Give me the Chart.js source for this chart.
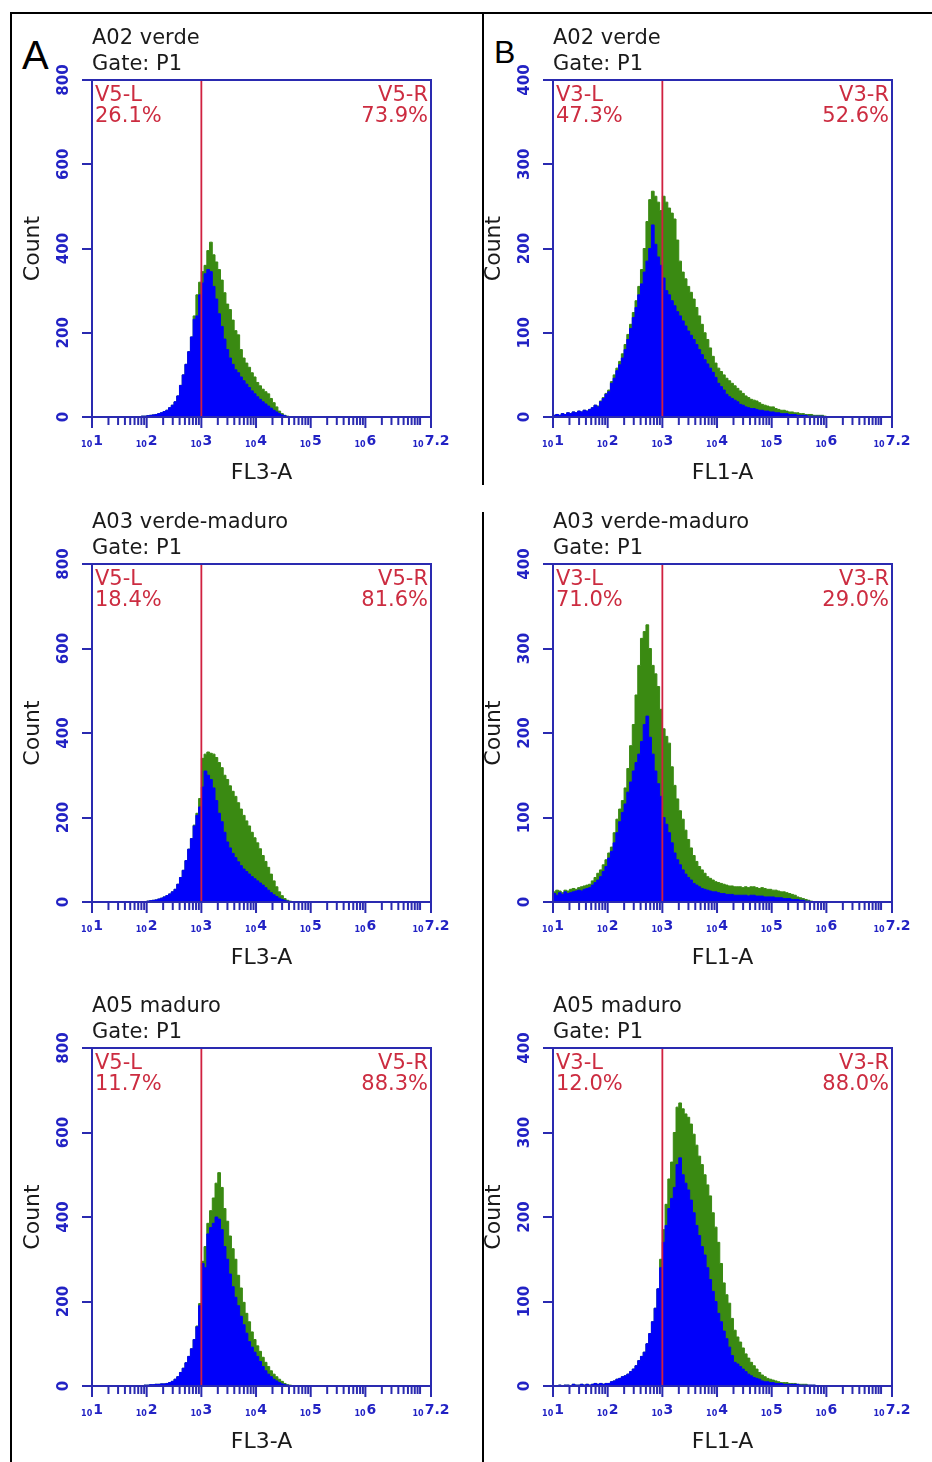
<!DOCTYPE html>
<html><head><meta charset="utf-8">
<script src="https://cdn.jsdelivr.net/npm/chart.js@4.4.1/dist/chart.umd.min.js"></script>
<style>
html,body{margin:0;padding:0;background:#fff;}
body{width:932px;height:1462px;position:relative;overflow:hidden;font-family:"DejaVu Sans",sans-serif;}
.frame{position:absolute;background:#000;}
canvas{position:absolute;}
.ttl{position:absolute;font-size:21px;line-height:26px;color:#1a1a1a;white-space:nowrap;}
.pct{position:absolute;font-size:21px;line-height:20.5px;color:#cc2c40;white-space:nowrap;}
.pct.r{text-align:right;}
.letter{position:absolute;font-family:"Liberation Sans",Arial,sans-serif;color:#000;}
</style></head>
<body>
<div class="frame" style="left:10px;top:12px;width:2px;height:1450px"></div>
<div class="frame" style="left:10px;top:12px;width:922px;height:2px"></div>
<div class="frame" style="left:482px;top:12px;width:2px;height:473px"></div>
<div class="frame" style="left:482px;top:512px;width:2px;height:950px"></div>
<div class="letter" style="left:22px;top:35px;font-size:40px;line-height:40px">A</div>
<div class="letter" style="left:494px;top:36px;font-size:32px;line-height:32px">B</div>
<script>
// ---------- data (counts per 0.05-decade bin, bins start at 10^1.00, 10^1.05, ... 10^5.95) ----------
const binStartExp = 1.0;
const binStepExp = 0.05;

const sampleNames = ['A02 verde', 'A03 verde-maduro', 'A05 maduro'];
const gateLabel = 'Gate: P1';
const channelA = 'FL3-A';
const channelB = 'FL1-A';
const regionA = ['V5-L', 'V5-R'];
const regionB = ['V3-L', 'V3-R'];
const pctLeftA = ['26.1%', '18.4%', '11.7%'];
const pctRightA = ['73.9%', '81.6%', '88.3%'];
const pctLeftB = ['47.3%', '71.0%', '12.0%'];
const pctRightB = ['52.6%', '29.0%', '88.0%'];
const yMaxA = 800, yStepA = 200;
const yMaxB = 400, yStepB = 100;
const gateValue = 1000;
const xMinExp = 1, xMaxExp = 7.2;
const xLabelExps = [1, 2, 3, 4, 5, 6, 7.2];
const xLabelSups = ['1', '2', '3', '4', '5', '6', '7.2'];
const xLabelBase = '10';

// Panel A (FL3-A)
const fl3_A02_blue = [
 0,0,0,0,0,0,0,0,0,0,0,0,0,0,0,0,1,1,2,2,
 3,4,5,6,8,10,13,16,22,28,36,50,75,100,125,155,190,232,240,290,
 318,340,350,345,310,280,245,215,185,160,140,125,112,105,95,86,78,70,62,55,
 48,42,36,31,26,21,16,12,8,5,3,1,0,0,0,0,0,0,0,0,
 0,0,0,0,0,0,0,0,0,0,0,0,0,0,0,0,0,0,0,0];
const fl3_A02_green = [
 0,0,0,0,0,0,0,0,0,0,0,0,0,0,0,0,1,1,2,2,
 3,4,5,6,8,10,13,16,22,28,36,50,75,100,125,155,190,240,290,320,
 345,360,395,415,385,368,350,325,295,268,255,230,205,195,160,140,128,118,105,95,
 82,74,66,60,55,44,34,24,14,8,4,2,1,0,0,0,0,0,0,0,
 0,0,0,0,0,0,0,0,0,0,0,0,0,0,0,0,0,0,0,0];
const fl3_A03_blue = [
 0,0,0,0,0,0,0,0,0,0,0,0,0,0,0,0,0,0,0,1,
 2,3,4,5,7,9,12,15,19,24,30,42,58,75,98,125,150,180,205,225,
 272,310,300,290,270,240,210,190,165,142,128,115,105,95,86,78,72,66,60,55,
 50,45,40,34,28,22,17,13,9,6,4,2,1,0,0,0,0,0,0,0,
 0,0,0,0,0,0,0,0,0,0,0,0,0,0,0,0,0,0,0,0];
const fl3_A03_green = [
 0,0,0,0,0,0,0,0,0,0,0,0,0,0,0,0,0,0,0,1,
 2,3,4,5,7,9,12,15,19,24,30,42,58,75,98,125,150,182,210,245,
 340,350,355,352,350,342,330,318,300,290,275,262,250,235,220,205,192,180,165,152,
 140,126,110,96,82,66,50,36,24,15,8,4,2,1,0,0,0,0,0,0,
 0,0,0,0,0,0,0,0,0,0,0,0,0,0,0,0,0,0,0,0];
const fl3_A05_blue = [
 0,0,0,0,0,0,0,0,0,0,0,0,0,0,0,0,0,1,1,2,
 2,3,3,4,4,5,5,6,8,11,16,22,32,42,55,70,88,110,140,190,
 290,280,360,375,385,400,395,370,330,300,265,235,210,190,165,145,125,105,92,80,
 70,58,46,36,28,22,16,12,8,5,3,2,1,0,0,0,0,0,0,0,
 0,0,0,0,0,0,0,0,0,0,0,0,0,0,0,0,0,0,0,0];
const fl3_A05_green = [
 0,0,0,0,0,0,0,0,0,0,0,0,0,0,0,0,0,1,1,2,
 2,3,3,4,4,5,5,6,8,11,16,22,32,42,55,70,88,110,142,195,
 295,330,385,415,445,480,505,470,420,390,355,325,300,262,232,198,172,152,128,110,
 95,82,68,56,46,36,28,22,16,11,6,3,2,1,0,0,0,0,0,0,
 0,0,0,0,0,0,0,0,0,0,0,0,0,0,0,0,0,0,0,0];

// Panel B (FL1-A)
const fl1_A02_blue = [
 2,3,2,4,3,5,4,6,5,7,6,8,7,9,11,14,12,18,22,27,
 30,40,46,55,62,70,80,92,105,118,130,145,158,172,185,200,228,205,190,180,
 165,150,145,138,132,125,120,114,108,102,97,92,86,80,74,68,63,58,53,47,
 40,36,32,27,24,22,20,18,15,14,12,11,10,10,9,8,8,7,7,6,
 6,5,5,4,4,4,3,3,3,2,2,2,2,1,1,1,1,1,1,0];
const fl1_A02_green = [
 2,3,2,4,3,5,4,6,5,7,6,8,7,9,11,14,13,19,23,28,
 32,42,50,58,66,75,86,98,110,124,138,155,175,200,232,258,268,262,255,245,
 262,255,248,242,235,210,185,172,164,155,148,140,130,120,110,100,92,82,72,64,
 58,54,50,46,43,40,37,34,31,28,25,23,21,20,19,17,15,14,13,12,
 12,10,9,8,8,7,6,6,5,5,4,4,3,3,3,2,2,2,2,1];
const fl1_A03_blue = [
 10,8,11,9,12,10,11,12,13,14,13,15,16,17,20,23,26,30,36,42,
 52,60,70,82,95,106,116,130,142,155,165,175,190,210,220,195,175,155,140,125,
 100,92,82,70,58,50,44,38,33,29,26,22,20,18,16,15,14,13,12,12,
 11,10,10,9,9,9,8,8,8,8,8,7,8,8,7,7,7,6,6,6,
 6,5,5,5,4,4,4,3,3,3,2,2,1,1,0,0,0,0,0,0];
const fl1_A03_green = [
 12,14,13,11,14,13,15,16,15,17,18,19,20,21,25,29,34,38,44,50,
 58,65,82,98,110,120,135,158,185,210,245,280,312,320,328,300,280,270,255,228,
 205,196,188,160,138,122,108,98,85,74,64,55,48,42,38,34,30,28,26,24,
 23,22,21,20,19,19,18,18,18,17,18,17,18,18,17,16,17,16,15,15,
 14,14,13,12,12,11,10,9,8,6,5,4,3,2,1,0,0,0,0,0];
const fl1_A05_blue = [
 0,0,1,0,1,1,0,2,1,1,2,1,2,1,2,3,2,3,2,3,
 3,5,6,8,9,11,12,14,17,20,24,30,35,40,50,62,76,92,115,140,
 170,190,210,222,235,262,270,250,240,232,220,205,190,178,165,155,140,126,112,100,
 86,76,65,56,46,36,28,26,23,20,17,14,12,10,9,8,6,5,5,4,
 4,3,3,3,2,2,2,2,2,2,1,1,1,1,1,1,0,0,0,0];
const fl1_A05_green = [
 0,0,1,0,1,1,0,2,1,1,2,1,2,1,2,3,2,3,2,3,
 3,5,6,8,9,11,12,14,17,20,24,30,35,40,50,62,76,92,115,150,
 185,215,245,265,300,330,335,328,322,318,310,298,285,272,262,250,238,225,205,188,
 170,145,122,108,98,80,66,58,52,45,38,33,28,24,20,16,13,11,9,8,
 7,6,5,4,4,4,3,3,3,2,2,2,2,1,1,1,0,0,0,0];

// ---------- styling / placement ----------
const BLUE = '#0000fa';
const GREEN = '#3a8a12';
const AXIS = '#2a2ab0';
const TICK_TXT = '#2222c4';
const GATE_RED = '#d02040';
const TITLE_CLR = '#1a1a1a';
const FONT = '"DejaVu Sans", sans-serif';
const COL_LEFT = [92, 553];
const ROW_TOP = [80, 564, 1048];
const ROW_BOTTOM = [417, 902, 1386];
const PLOT_W = 339;

const panels = [];
for (let r = 0; r < 3; r++) {
  panels.push({col:0,row:r,name:sampleNames[r],axis:channelA,reg:regionA,pl:pctLeftA[r],pr:pctRightA[r],yMax:yMaxA,yStep:yStepA,
    blue:[fl3_A02_blue,fl3_A03_blue,fl3_A05_blue][r], green:[fl3_A02_green,fl3_A03_green,fl3_A05_green][r]});
  panels.push({col:1,row:r,name:sampleNames[r],axis:channelB,reg:regionB,pl:pctLeftB[r],pr:pctRightB[r],yMax:yMaxB,yStep:yStepB,
    blue:[fl1_A02_blue,fl1_A03_blue,fl1_A05_blue][r], green:[fl1_A02_green,fl1_A03_green,fl1_A05_green][r]});
}

function toPoints(counts) {
  const pts = counts.map((c, i) => ({x: Math.pow(10, binStartExp + i * binStepExp), y: c}));
  pts.push({x: Math.pow(10, binStartExp + counts.length * binStepExp), y: 0});
  return pts;
}

function buildXTicks() {
  const t = [];
  for (let d = xMinExp; d < 7; d++) {
    for (let m = 1; m <= 9; m++) t.push({value: m * Math.pow(10, d), major: m === 1});
  }
  t.push({value: Math.pow(10, 7), major: false});
  t.push({value: Math.pow(10, xMaxExp), major: true});
  return t;
}

const flowDecor = {
  id: 'flowDecor',
  afterDraw(chart, args, opts) {
    const {ctx, chartArea: a} = chart;
    const x = chart.scales.x;
    ctx.save();
    // gate line
    const gx = x.getPixelForValue(opts.gate);
    ctx.strokeStyle = GATE_RED; ctx.lineWidth = 1.8;
    ctx.beginPath(); ctx.moveTo(gx, a.top); ctx.lineTo(gx, a.bottom); ctx.stroke();
    // frame
    ctx.strokeStyle = AXIS; ctx.lineWidth = 2;
    ctx.strokeRect(a.left, a.top, a.right - a.left, a.bottom - a.top);
    // x tick marks
    ctx.lineWidth = 2;
    x.ticks.forEach(t => {
      const px = x.getPixelForValue(t.value);
      const len = t.major ? 11 : 8;
      ctx.beginPath(); ctx.moveTo(px, a.bottom); ctx.lineTo(px, a.bottom + len); ctx.stroke();
    });
    // x tick labels
    ctx.fillStyle = TICK_TXT; ctx.textAlign = 'left'; ctx.textBaseline = 'alphabetic';
    xLabelExps.forEach((e, i) => {
      const px = x.getPixelForValue(Math.pow(10, e));
      ctx.font = 'bold 8px ' + FONT; const w1 = ctx.measureText(xLabelBase).width;
      ctx.font = 'bold 14px ' + FONT; const w2 = ctx.measureText(xLabelSups[i]).width;
      const sx = px - (w1 + w2 + 1) / 2;
      ctx.font = 'bold 8px ' + FONT; ctx.fillText(xLabelBase, sx, a.bottom + 30);
      ctx.font = 'bold 14px ' + FONT; ctx.fillText(xLabelSups[i], sx + w1 + 1, a.bottom + 28);
    });
    ctx.restore();
  }
};

function addDiv(cls, html, style) {
  const d = document.createElement('div');
  d.className = cls; d.innerHTML = html;
  Object.assign(d.style, style);
  document.body.appendChild(d);
}

panels.forEach(p => {
  const L = COL_LEFT[p.col], T = ROW_TOP[p.row], B = ROW_BOTTOM[p.row];
  const W = 440, H = B - T + 90;
  const cv = document.createElement('canvas');
  cv.width = W; cv.height = H;
  Object.assign(cv.style, {left: (L - 78) + 'px', top: (T - 20) + 'px', width: W + 'px', height: H + 'px'});
  document.body.appendChild(cv);

  new Chart(cv, {
    type: 'line',
    data: {datasets: [
      {label: 'blue', data: toPoints(p.blue), stepped: true, fill: 'origin', backgroundColor: BLUE, borderColor: BLUE, borderWidth: 1, pointRadius: 0, order: 1},
      {label: 'green', data: toPoints(p.green), stepped: true, fill: 'origin', backgroundColor: GREEN, borderColor: GREEN, borderWidth: 1, pointRadius: 0, order: 2}
    ]},
    options: {
      responsive: false, animation: false, devicePixelRatio: 1,
      layout: {padding: {left: 0, top: 20, right: 23, bottom: 0}},
      plugins: {legend: {display: false}, tooltip: {enabled: false}, flowDecor: {gate: gateValue}},
      scales: {
        x: {
          type: 'logarithmic', position: 'bottom', min: Math.pow(10, xMinExp), max: Math.pow(10, xMaxExp),
          grid: {display: false}, border: {display: true, color: AXIS, width: 2},
          ticks: {display: false},
          title: {display: true, text: p.axis, color: TITLE_CLR, font: {family: FONT, size: 22, lineHeight: 1.2}, padding: {top: 0, bottom: 1}},
          afterBuildTicks: s => { s.ticks = buildXTicks(); },
          afterFit: s => { s.height = 70; s.paddingLeft = 0; s.paddingRight = 0; s.paddingTop = 0; s.paddingBottom = 0; }
        },
        y: {
          type: 'linear', position: 'left', min: 0, max: p.yMax,
          grid: {drawOnChartArea: false, drawTicks: true, tickLength: 10, color: AXIS, lineWidth: 2},
          border: {display: true, color: AXIS, width: 2},
          ticks: {stepSize: p.yStep, minRotation: 90, maxRotation: 90, crossAlign: 'center', padding: 2, autoSkip: false,
                  color: TICK_TXT, font: {family: FONT, size: 15, weight: 'bold'}},
          title: {display: true, text: 'Count', color: TITLE_CLR, font: {family: FONT, size: 22, lineHeight: 1.2}, padding: {top: 6, bottom: 0}},
          afterFit: s => { s.width = 78; s.paddingLeft = 0; s.paddingRight = 0; s.paddingTop = 0; s.paddingBottom = 0; }
        }
      }
    },
    plugins: [flowDecor]
  });

  addDiv('ttl', p.name + '<br>' + gateLabel, {left: L + 'px', top: (T - 56) + 'px'});
  addDiv('pct', p.reg[0] + '<br>' + p.pl, {left: (L + 3) + 'px', top: (T + 4) + 'px'});
  addDiv('pct r', p.reg[1] + '<br>' + p.pr, {right: (932 - (L + PLOT_W - 3)) + 'px', top: (T + 4) + 'px'});
});
</script>
</body></html>
